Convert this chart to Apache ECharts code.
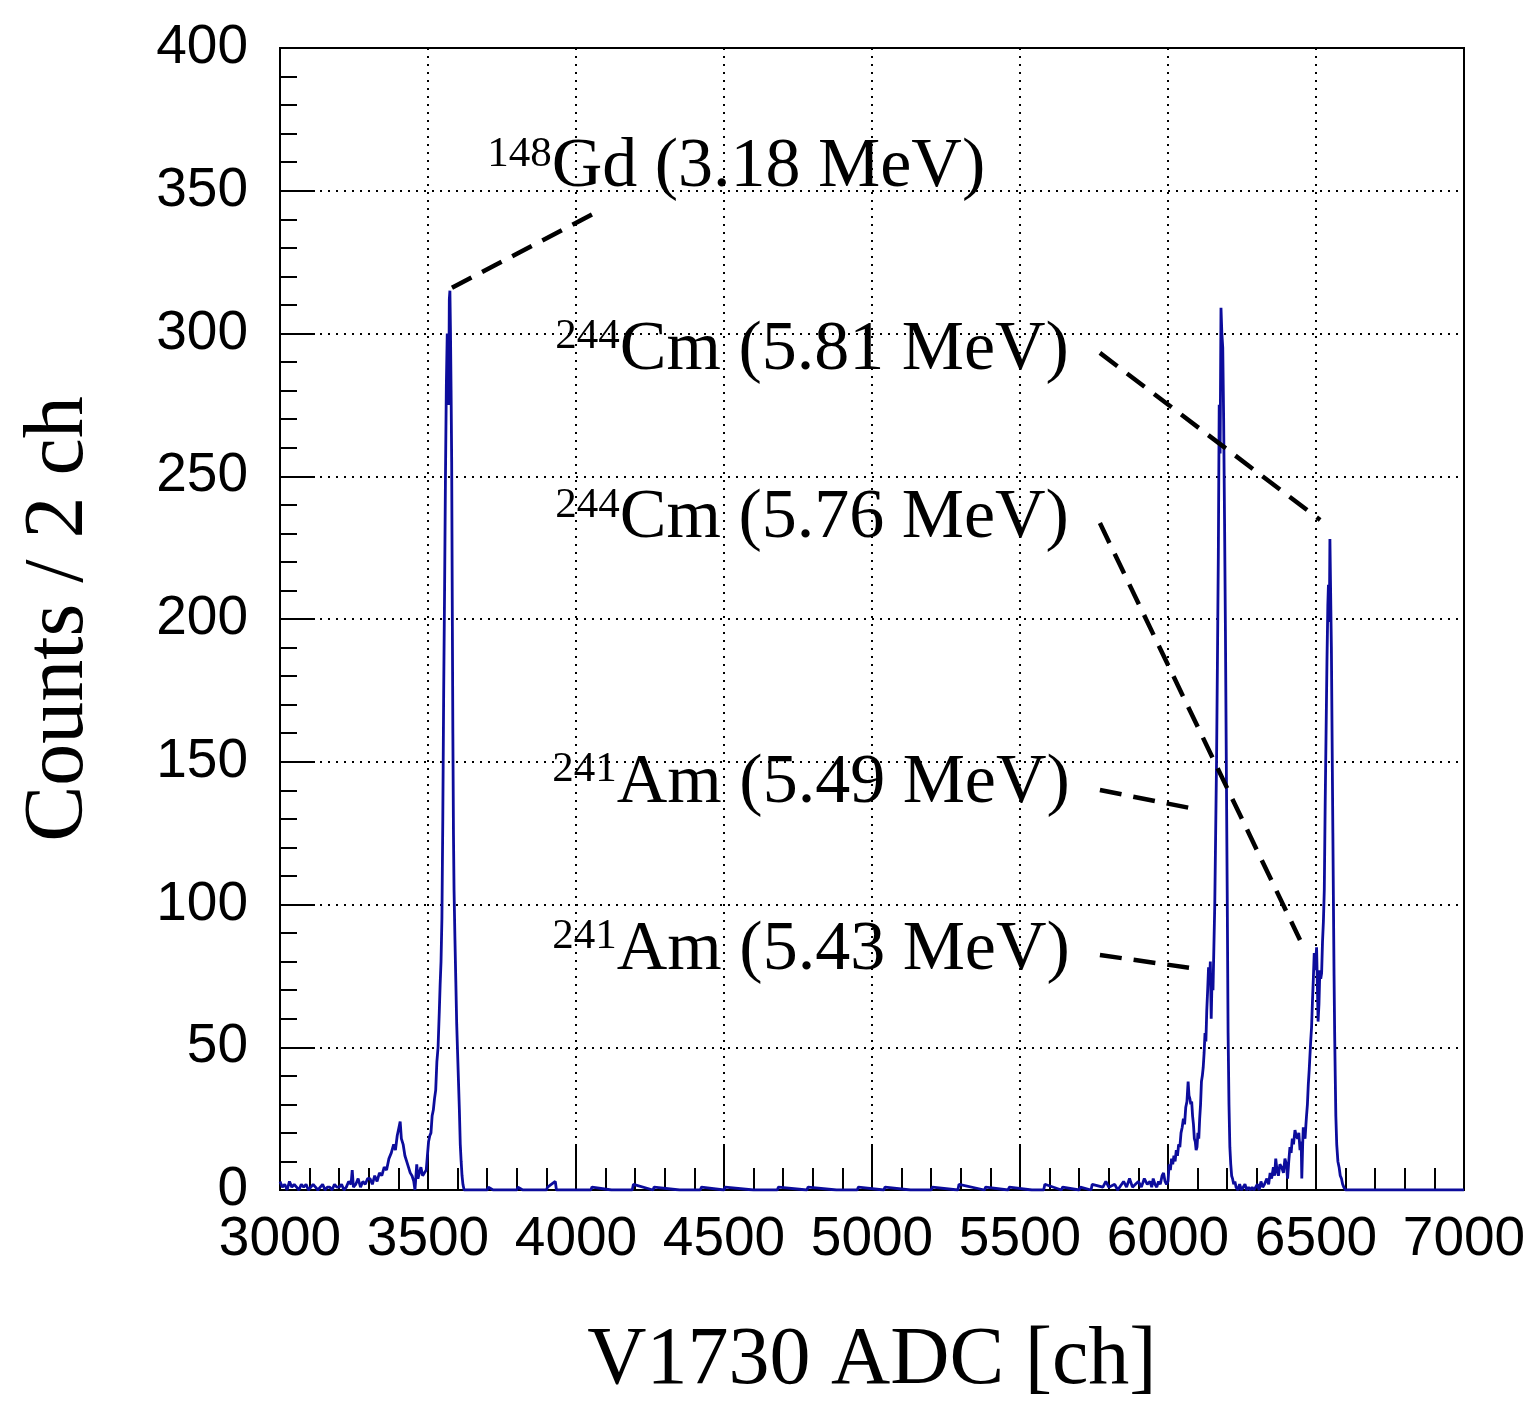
<!DOCTYPE html>
<html>
<head>
<meta charset="utf-8">
<script src="https://cdn.jsdelivr.net/npm/echarts@6/dist/echarts.min.js"></script>
<style>
html,body{margin:0;padding:0;background:#fff;}
#chart{width:1533px;height:1403px;}
</style>
</head>
<body>
<div id="chart"></div>
<script>
// ---- Data (ADC channel, counts per 2 ch) ----
const lowChannels = [3000,3008,3016,3024,3032,3040,3048,3056,3064,3072,3080,3088,3096,3104,3112,3120,3128,3136,3144,3152,3160,3168,3176,3184,3192,3200,3208,3216,3224,3232,3240,3244,3248,3256,3264,3272,3280,3288,3296];
const lowCounts   = [3,1,2,0,3,1,2,1,0,2,1,2,0,1,2,1,0,1,2,0,1,1,0,2,1,1,2,0,1,3,2,7,1,2,4,1,3,2,4];

const gdBumpChannels = [3304,3312,3320,3328,3336,3344,3352,3360,3368,3376,3384,3390,3396,3402,3406,3410,3416,3422,3428,3434,3440,3446,3452,3456,3462,3466,3470,3476,3482,3488,3494,3498];
const gdBumpCounts   = [4,2,5,3,6,5,8,7,11,13,16,14,19,22,24,18,16,12,10,8,6,5,3,0,9,4,4,8,5,6,7,12];

const gdPeakChannels = [3502,3506,3510,3514,3518,3522,3526,3530,3534,3538,3541,3544,3547,3550,3553,3556,3559,3562,3565,3568,3570,3572,3574,3576,3578,3580,3582,3584,3586,3588,3591,3594,3597,3600,3603,3606,3609,3612,3615,3618,3622];
const gdPeakCounts   = [17,19,20,26,28,32,35,45,50,62,72,80,95,130,175,210,250,282,300,296,275,312,315,300,280,255,205,160,125,105,88,73,58,48,38,28,16,10,5,2,0];

const flatChannels = [3640,3700,3704,3720,3780,3800,3804,3820,3900,3904,3930,3934,4000,4050,4054,4120,4190,4194,4260,4264,4350,4420,4424,4500,4504,4600,4680,4684,4780,4784,4880,4950,4954,5040,5044,5130,5200,5204,5290,5294,5380,5384,5460,5464,5540,5580,5584,5640,5644,5700,5704,5740,5744,5780,5790,5800,5820,5830,5850,5860,5870,5880,5890,5900,5910,5920,5930];
const flatCounts   = [0,0,1,0,0,0,1,0,0,1,3,0,0,0,1,0,0,2,0,1,0,0,1,0,1,0,0,1,0,1,0,0,1,0,1,0,0,1,0,2,0,1,0,1,0,0,2,0,1,0,1,0,2,1,3,1,2,0,3,1,4,1,2,3,1,4,2];

const amChannels = [5939,5945,5950,5956,5962,5968,5974,5980,5985,5990,5995,6000,6004,6008,6012,6016,6020,6024,6028,6032,6036,6040,6044,6048,6052,6056,6060,6064,6068,6071,6074,6077,6080,6083,6086,6089,6092,6095,6098,6101,6104,6107,6110,6113,6116,6119,6122,6125,6128,6131,6134,6137,6140,6143,6146,6149,6152,6155,6158,6161,6164,6167,6170,6173,6176,6179,6182,6185,6188,6191,6194,6197,6200,6203,6206,6209,6212,6215,6218,6222,6226,6230,6236,6242,6248,6254,6260,6266,6272,6278,6284,6290];
const amCounts   = [3,1,4,2,1,3,2,5,6,3,2,3,9,7,11,9,12,10,14,12,16,15,20,22,25,23,29,31,38,33,32,30,31,26,23,18,17,14,15,20,18,25,30,38,40,43,48,55,52,63,70,78,72,80,60,75,70,85,100,125,150,185,222,275,258,309,300,295,270,235,196,150,105,55,30,15,9,5,4,2,3,1,0,2,0,1,2,0,1,0,1,0];

const cmChannels = [6296,6302,6308,6314,6320,6326,6334,6340,6345,6350,6356,6360,6364,6368,6373,6378,6384,6390,6395,6400,6404,6408,6412,6416,6420,6424,6429,6433,6438,6442,6446,6450,6452,6455,6457,6460,6463,6466,6468,6471,6474,6477,6479,6482,6485,6488,6491,6494,6497,6499,6502,6505,6507,6510,6513,6516,6519,6522,6525,6528,6531,6534,6537,6540,6542,6545,6547,6550,6552,6555,6557,6559,6561,6563,6565,6567,6570,6574,6578,6582,6586,6590,6594,6600,7000];
const cmCounts   = [1,2,0,3,1,2,4,2,6,4,8,5,11,7,5,9,8,6,11,9,4,10,15,13,18,16,21,19,18,20,14,17,4,16,22,19,18,23,26,30,37,42,46,52,57,66,74,83,77,77,85,70,59,65,77,74,76,87,94,105,135,160,185,205,212,199,228,205,190,150,125,99,75,55,40,26,16,10,8,5,4,2,1,0,0];

// Annotation texts: superscript, label, anchor (channel, counts at baseline)
const labelSup   = ['148','244','244','241','241'];
const labelMain  = ['Gd (3.18 MeV)','Cm (5.81 MeV)','Cm (5.76 MeV)','Am (5.49 MeV)','Am (5.43 MeV)'];
const labelX     = [3700,3930,3930,3920,3920];
const labelY     = [351,287,228,135.5,77];

// Dashed pointer lines: [x1, y1, x2, y2] in data units
const pointerLines = [
  [3581,316,4071,342.6],
  [5770,293.2,6514,234.7],
  [5770,233.6,6446,87.6],
  [5770,140.1,6074,133.8],
  [5770,82.3,6074,77.8]
];

const xTicks = {min:3000, max:7000, step:500};
const yTicks = {min:0, max:400, step:50};

// ---- Build spectrum ----
const channels = [].concat(lowChannels, gdBumpChannels, gdPeakChannels, flatChannels, amChannels, cmChannels);
const counts   = [].concat(lowCounts, gdBumpCounts, gdPeakCounts, flatCounts, amCounts, cmCounts);
const spectrum = channels.map((c,i)=>[c, counts[i]]);

const chart = echarts.init(document.getElementById('chart'), null, {renderer:'canvas'});

const axisCommon = {
  axisLine:{show:true, lineStyle:{color:'#000', width:2}},
  splitLine:{show:true, lineStyle:{color:'#000', width:2, type:[2,6]}},
  axisLabel:{color:'#000', fontFamily:'Liberation Sans', fontSize:55, showMinLabel:true, showMaxLabel:true,
    formatter:(v)=>String(v)},
  nameLocation:'middle',
  nameTextStyle:{color:'#000', fontFamily:'Liberation Serif'}
};

const series = [{
  type:'line', data:spectrum, symbol:'none', z:5,
  lineStyle:{color:'#0c0c9c', width:2.8}
}];
pointerLines.forEach(p=>{
  series.push({type:'line', data:[[p[0],p[1]],[p[2],p[3]]], symbol:'none', z:6, silent:true,
    lineStyle:{color:'#000', width:4.5, type:[22,12]}});
});

chart.setOption({
  animation:false,
  backgroundColor:'#fff',
  grid:{left:280, right:69, top:48, bottom:213, containLabel:false, outerBoundsMode:'none',
    show:true, borderColor:'#000', borderWidth:2, backgroundColor:'transparent'},
  xAxis:Object.assign({}, axisCommon, {
    type:'value', min:xTicks.min, max:xTicks.max, interval:xTicks.step,
    axisTick:{show:true, inside:true, length:44, lineStyle:{color:'#000', width:2}},
    minorTick:{show:true, splitNumber:5, length:22, lineStyle:{color:'#000', width:2}},
    axisLabel:Object.assign({}, axisCommon.axisLabel, {margin:22}),
    name:'V1730 ADC [ch]', nameGap:130,
    nameTextStyle:Object.assign({}, axisCommon.nameTextStyle, {fontSize:82})
  }),
  yAxis:Object.assign({}, axisCommon, {
    type:'value', min:yTicks.min, max:yTicks.max, interval:yTicks.step,
    axisTick:{show:true, inside:true, length:35, lineStyle:{color:'#000', width:2}},
    minorTick:{show:true, splitNumber:5, length:17, lineStyle:{color:'#000', width:2}},
    axisLabel:Object.assign({}, axisCommon.axisLabel, {margin:32}),
    name:'Counts / 2 ch', nameGap:178,
    nameTextStyle:Object.assign({}, axisCommon.nameTextStyle, {fontSize:84})
  }),
  series:series
});

const graphics = labelMain.map((m,i)=>{
  const p = chart.convertToPixel({gridIndex:0}, [labelX[i], labelY[i]]);
  return {
    type:'text', x:p[0], y:p[1]+15, z:10,
    style:{
      text:'{sup|'+labelSup[i]+'}{main|'+m+'}',
      align:'left', verticalAlign:'bottom',
      rich:{
        sup:{fontFamily:'Liberation Serif', fontSize:43, fill:'#000', verticalAlign:'top'},
        main:{fontFamily:'Liberation Serif', fontSize:70, fill:'#000'}
      }
    }
  };
});
chart.setOption({graphic:graphics});
</script>
</body>
</html>
